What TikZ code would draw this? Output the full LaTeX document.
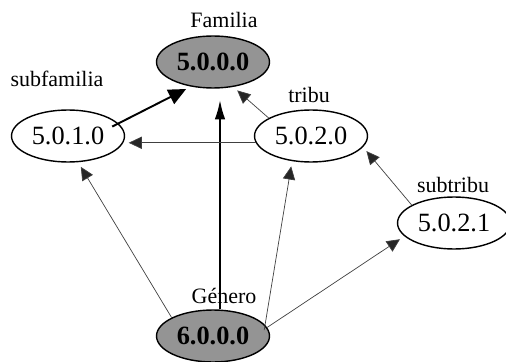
\documentclass[tikz,border=0pt]{standalone}
\usepackage{fontspec}
\setmainfont{Liberation Serif}
\usetikzlibrary{shapes.geometric,arrows.meta}
\tikzset{
  taxon/.style={draw, ellipse, thick, inner sep=0pt, minimum width=2.26cm, minimum height=1.04cm, font=\fontsize{15}{15}\selectfont},
  root/.style={taxon, fill=black!42, font=\fontsize{15}{15}\selectfont\bfseries},
  rank/.style={font=\fontsize{12.5}{12.5}\selectfont},
  mainedge/.style={draw, line width=1.1pt, -{Triangle[length=10pt,width=9pt]}},
  subedge/.style={draw, black!75, thin, -{Triangle[length=7.5pt,width=7pt,fill=black!85]}, shorten >=3pt},
}
\begin{document}
\begin{tikzpicture}[x=0.02cm,y=-0.02cm]
\useasboundingbox (0,0) rectangle (506,361);
\node[root] (fam) at (213,62) {5.0.0.0};
\node[taxon] (subfam) at (68,136) {5.0.1.0};
\node[taxon] (tri) at (311,136) {5.0.2.0};
\node[taxon] (subtri) at (454,223) {5.0.2.1};
\node[root] (gen) at (213,336) {6.0.0.0};
\node[rank] (lfam) at (224,20) {Familia};
\node[rank] (lsubfam) at (57,79) {subfamilia};
\node[rank] (ltri) at (309,95) {tribu};
\node[rank] (lsubtri) at (453,185) {subtribu};
\node[rank] (lgen) at (224,296) {Género};
\coordinate (famtip) at (220,100);
\path[mainedge, shorten >=3pt, shorten <=-4pt] (subfam.14) -- (fam.-132);
\path[draw, line width=1.1pt, -{Latex[length=11pt,width=6pt]}] (gen.north -| famtip) -- (famtip);
\path[subedge] (tri.157) -- (fam.-51);
\path[subedge, shorten >=2pt] (tri.187) -- (tri.187 -| subfam.east);
\path[subedge] (subtri.157) -- (tri.-12);
\path[subedge] (gen.156) -- (subfam.-69);
\path[subedge, shorten <=-3pt] (gen.12) -- (tri.-127);
\path[subedge] (gen.9) -- (subtri.-165);
\end{tikzpicture}
\end{document}
